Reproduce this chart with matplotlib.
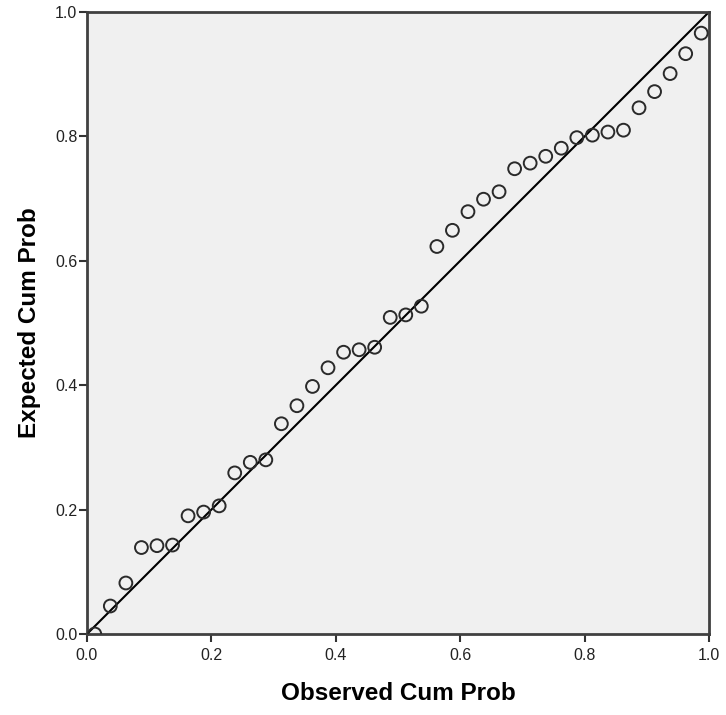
import numpy as np
import matplotlib
matplotlib.use('Agg')
import matplotlib.pyplot as plt

plt.rcParams['font.family'] = ['Liberation Sans', 'DejaVu Sans']

# observed cumulative probability, (i - 0.5) / n for n = 40 cases
n_cases = 40
observed = [(i - 0.5) / n_cases for i in range(1, n_cases + 1)]

# expected cumulative probability
expected = [0.000, 0.045, 0.082, 0.139, 0.142, 0.143, 0.190, 0.196, 0.206, 0.259,
            0.276, 0.280, 0.338, 0.367, 0.398, 0.428, 0.453, 0.457, 0.461, 0.509,
            0.513, 0.527, 0.623, 0.649, 0.679, 0.699, 0.711, 0.748, 0.757, 0.768,
            0.781, 0.798, 0.802, 0.807, 0.810, 0.846, 0.872, 0.901, 0.933, 0.966]

ticks = [0.0, 0.2, 0.4, 0.6, 0.8, 1.0]

fig = plt.figure(figsize=(7.26, 7.15), dpi=100)
ax = fig.add_axes([87/726, 81/715, 622/726, 622/715])
ax.set_facecolor('#f0f0f0')

ax.plot([0, 1], [0, 1], color='black', lw=1.5, zorder=2)
ax.scatter(observed, expected, s=85, facecolors='none', edgecolors='#2a2a2a',
           linewidths=1.4, zorder=3, clip_on=True)

ax.set_xlim(0, 1)
ax.set_ylim(0, 1)
ax.set_xticks(ticks)
ax.set_yticks(ticks)
ax.set_xticklabels([f'{t:.1f}' for t in ticks])
ax.set_yticklabels([f'{t:.1f}' for t in ticks])
ax.tick_params(direction='out', length=6, width=1.5, colors='#333333',
               labelsize=11.5, labelcolor='#222222')
ax.tick_params(axis='x', pad=4)
ax.tick_params(axis='y', pad=1)
for sp in ax.spines.values():
    sp.set_linewidth(2)
    sp.set_color('#404040')

ax.set_xlabel('Observed Cum Prob', fontsize=17.5, fontweight='bold', labelpad=14)
ax.set_ylabel('Expected Cum Prob', fontsize=17.5, fontweight='bold', labelpad=10)

fig.savefig('out.png', dpi=100)
